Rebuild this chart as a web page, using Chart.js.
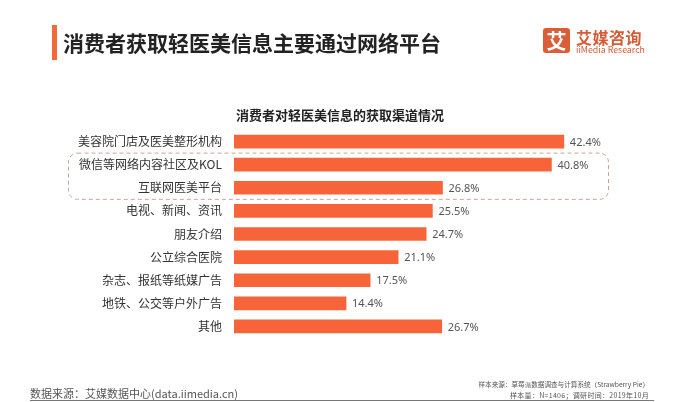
<!DOCTYPE html>
<html>
<head>
<meta charset="utf-8">
<script src="https://cdn.jsdelivr.net/npm/chart.js@4"></script>
<style>
  html, body { margin: 0; padding: 0; background: #fff; }
  body { width: 682px; height: 402px; position: relative; overflow: hidden; font-family: "Noto Sans CJK SC", "Noto Sans", sans-serif; }
  #chart { position: absolute; left: 0; top: 0; }
  .abs { position: absolute; white-space: nowrap; }
  #hbar { left: 52px; top: 25px; width: 5px; height: 35px; background: #F26A3A; }
  #title { left: 63px; top: 28px; font-size: 21px; line-height: 28px; font-weight: bold; color: #222; }
  #logo { left: 543px; top: 28px; width: 27px; height: 25px; background: #D95E38; border-radius: 3px; color: #fff; font-size: 20px; font-weight: bold; line-height: 25px; text-align: center; }
  #logoT1 { left: 576px; top: 27px; font-size: 16px; line-height: 20px; font-weight: bold; color: #D65B35; letter-spacing: 0.5px; }
  #logoT2 { left: 576px; top: 44px; font-size: 8.8px; line-height: 12px; color: #D65B35; }
  #sub { left: 0; width: 680px; top: 106px; text-align: center; font-size: 13px; line-height: 18px; font-weight: bold; color: #222; }
  #src { left: 30px; top: 385px; font-size: 11px; line-height: 16px; color: #555; }
  #fline { left: 30px; top: 400px; width: 624px; height: 1px; background: #777; }
  #s1 { right: 33px; top: 379px; font-size: 6.6px; line-height: 10px; color: #555; }
  #s2 { right: 33px; top: 390px; font-size: 7px; line-height: 10px; color: #555; letter-spacing: 0.3px; }
</style>
</head>
<body>
<canvas id="chart" width="682" height="402"></canvas>
<div class="abs" id="hbar"></div>
<div class="abs" id="title">消费者获取轻医美信息主要通过网络平台</div>
<div class="abs" id="logo">艾</div>
<div class="abs" id="logoT1">艾媒咨询</div>
<div class="abs" id="logoT2">iiMedia Research</div>
<div class="abs" id="sub">消费者对轻医美信息的获取渠道情况</div>
<div class="abs" id="src">数据来源：艾媒数据中心(data.iimedia.cn)</div>
<div class="abs" id="fline"></div>
<div class="abs" id="s1">样本来源：草莓派数据调查与计算系统（Strawberry Pie）</div>
<div class="abs" id="s2">样本量：N=1406；调研时间：2019年10月</div>
<script>
const categories = [
  "美容院门店及医美整形机构",
  "微信等网络内容社区及KOL",
  "互联网医美平台",
  "电视、新闻、资讯",
  "朋友介绍",
  "公立综合医院",
  "杂志、报纸等纸媒广告",
  "地铁、公交等户外广告",
  "其他"
];
const values = [42.4, 40.8, 26.8, 25.5, 24.7, 21.1, 17.5, 14.4, 26.7];
const highlighted = [1, 2];

const valueLabels = {
  id: 'valueLabels',
  afterDatasetsDraw(chart) {
    const ctx = chart.ctx;
    const meta = chart.getDatasetMeta(0);
    ctx.save();
    ctx.font = '11px "Noto Sans", "DejaVu Sans", sans-serif';
    ctx.fillStyle = '#555';
    ctx.textAlign = 'left';
    ctx.textBaseline = 'middle';
    meta.data.forEach((bar, i) => {
      ctx.fillText(values[i].toFixed(1) + '%', bar.x + 6, bar.y + 1);
    });
    ctx.restore();
  }
};

const dashBox = {
  id: 'dashBox',
  afterDraw(chart) {
    const y = chart.scales.y;
    const step = y.getPixelForValue(1) - y.getPixelForValue(0);
    const top = y.getPixelForValue(highlighted[0]) - step / 2;
    const bottom = y.getPixelForValue(highlighted[highlighted.length - 1]) + step / 2;
    const left = 68.5, right = 608.5, r = 9;
    const ctx = chart.ctx;
    ctx.save();
    ctx.strokeStyle = '#C9A597';
    ctx.lineWidth = 1;
    ctx.setLineDash([4, 3]);
    ctx.beginPath();
    ctx.roundRect(left, top, right - left, bottom - top, r);
    ctx.stroke();
    ctx.restore();
  }
};

new Chart(document.getElementById('chart'), {
  type: 'bar',
  data: {
    labels: categories,
    datasets: [{
      data: values,
      backgroundColor: '#F8643A',
      borderWidth: 0,
      barThickness: 13
    }]
  },
  options: {
    indexAxis: 'y',
    responsive: false,
    animation: false,
    devicePixelRatio: 1,
    layout: { padding: { top: 130, bottom: 64, left: 0, right: 59 } },
    scales: {
      x: { display: false, min: 0, max: 50 },
      y: {
        grid: { display: false, drawTicks: false },
        border: { display: false },
        ticks: {
          color: '#333',
          padding: 12,
          font: { size: 12, family: '"Noto Sans CJK SC", "Noto Sans", sans-serif' }
        },
        afterFit(scale) { scale.width = 234; }
      }
    },
    plugins: {
      legend: { display: false },
      tooltip: { enabled: false },
      title: { display: false }
    }
  },
  plugins: [valueLabels, dashBox]
});
</script>
</body>
</html>
